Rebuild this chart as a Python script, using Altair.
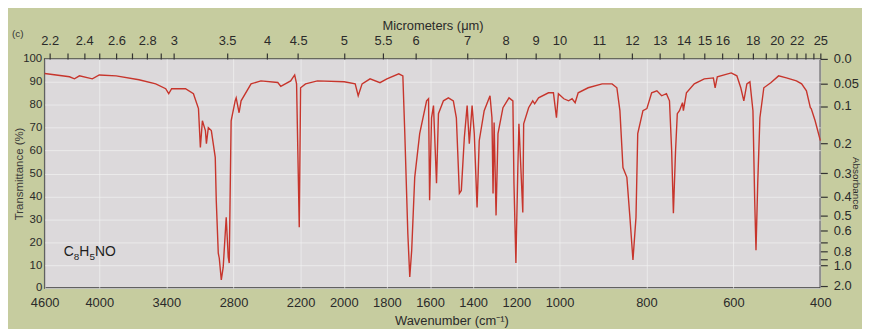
import json
import altair as alt
import pandas as pd

# ---- spectrum (wavenumber in cm-1, transmittance in %) ----
wavenumber = [
    4600, 4327, 4273, 4218, 4076, 4000, 3849, 3645, 3495, 3406, 3379, 3353, 3229, 3158,
    3113, 3096, 3078, 3051, 3042, 3025, 2998, 2963, 2954, 2936, 2927, 2909, 2892, 2865,
    2847, 2838, 2821, 2785, 2776, 2750, 2732, 2643, 2555, 2404, 2377, 2289, 2253, 2236,
    2212, 2200, 2177, 2122, 1998, 1947, 1933, 1915, 1878, 1832, 1800, 1745, 1726, 1717,
    1703, 1694, 1685, 1671, 1648, 1616, 1607, 1602, 1593, 1584, 1570, 1561, 1538, 1515,
    1492, 1478, 1464, 1455, 1441, 1428, 1418, 1405, 1395, 1382, 1372, 1349, 1322, 1313,
    1308, 1303, 1294, 1285, 1262, 1234, 1216, 1211, 1202, 1193, 1188, 1170, 1166, 1143,
    1124, 1115, 1097, 1051, 1028, 1014, 1005, 990, 979, 971, 964, 957, 934, 902,
    879, 868, 861, 854, 845, 838, 831, 824, 820, 808, 799, 788, 776, 765,
    754, 747, 742, 738, 733, 729, 724, 717, 715, 708, 690, 667, 646, 642,
    637, 605, 592, 583, 576, 569, 562, 555, 551, 548, 544, 539, 530, 514,
    496, 478, 455, 443, 432, 423, 421, 412, 400,
]
transmittance = [
    93.6, 92.2, 91.3, 92.6, 91.3, 93.0, 92.6, 90.9, 89.1, 87.0, 84.8, 87.0, 87.0, 84.8,
    78.3, 61.3, 73.0, 68.7, 63.0, 70.0, 68.7, 57.0, 38.3, 15.2, 13.0, 3.5, 9.1, 30.9,
    13.5, 10.9, 73.0, 81.7, 83.0, 76.5, 81.7, 89.1, 90.4, 89.7, 88.0, 90.4, 93.0, 89.1,
    26.5, 87.4, 89.1, 90.4, 90.0, 89.1, 83.9, 89.1, 91.3, 89.6, 91.3, 93.5, 92.6, 67.4,
    23.9, 4.8, 16.5, 48.3, 67.4, 81.7, 82.6, 38.3, 74.3, 79.6, 45.7, 76.1, 81.7, 83.0,
    81.7, 74.3, 41.3, 42.6, 65.7, 79.6, 63.0, 79.6, 67.4, 35.2, 64.3, 77.4, 83.9, 74.3,
    41.3, 72.2, 31.7, 67.4, 78.7, 83.0, 81.7, 45.7, 10.9, 52.6, 71.7, 33.0, 71.7, 78.7,
    81.7, 80.4, 83.0, 85.2, 85.2, 74.3, 84.8, 82.6, 81.7, 82.6, 80.9, 85.2, 87.4, 89.1,
    89.1, 87.4, 77.4, 52.6, 48.3, 30.9, 12.2, 30.9, 67.4, 77.4, 78.3, 85.2, 86.1, 83.9,
    84.8, 81.7, 60.0, 32.6, 60.0, 76.1, 77.4, 80.9, 77.4, 85.2, 89.1, 91.3, 91.7, 87.4,
    92.2, 93.9, 92.6, 87.4, 81.7, 89.1, 90.0, 77.4, 38.3, 16.5, 45.7, 74.3, 87.4, 89.6,
    92.6, 91.7, 90.4, 89.1, 86.1, 78.7, 78.3, 73.0, 64.3,
]

# ---- axis ticks / labels ----
wavenumber_ticks = [4600, 4000, 3400, 2800, 2200, 2000, 1800, 1600, 1400, 1200, 1000, 800, 600, 400]
transmittance_ticks = [0, 10, 20, 30, 40, 50, 60, 70, 80, 90, 100]
micrometer_ticks = [2.2, 2.3, 2.4, 2.5, 2.6, 2.7, 2.8, 2.9, 3.0, 3.5, 4.0, 4.5, 5.0, 5.5, 6.0,
                    7, 8, 9, 10, 11, 12, 13, 14, 15, 16, 17, 18, 19, 20, 21, 22, 23, 24, 25]
micrometer_labeled = [2.2, 2.4, 2.6, 2.8, 3, 3.5, 4, 4.5, 5, 5.5, 6, 7, 8, 9, 10, 11, 12, 13,
                      14, 15, 16, 18, 20, 22, 25]
absorbance_ticks = [0.0, 0.05, 0.1, 0.2, 0.3, 0.4, 0.5, 0.6, 0.7, 0.8, 0.9, 1.0, 2.0]
absorbance_labels = ["0.0", "0.05", "0.1", "0.2", "0.3", "0.4", "0.5", "0.6", "", "0.8", "", "1.0", "2.0"]
# molecular formula C8H5NO split into normal / subscript parts
formula_parts = ["C", "8", "H", "5", "NO"]
formula_is_sub = [False, True, False, True, False]

df = pd.DataFrame({"wn": wavenumber, "T": transmittance})

# piecewise wavenumber scale (chart compresses the high-wavenumber region)
W, H = 782, 231
x_scale = alt.Scale(domain=[4600, 4000, 2200, 1000, 400], range=[0, 55, 258, 519, 782],
                    nice=False, zero=False)
y_scale = alt.Scale(domain=[0, 100], nice=False, zero=False)

FONT = "Liberation Sans, Arial, sans-serif"
NARROW = "Liberation Sans Narrow, Liberation Sans, Arial, sans-serif"
TXT = "#2a2a2a"

um_codes = [round(u * 10) for u in micrometer_labeled]
top_expr = (f"indexof({um_codes}, round(100000/datum.value)) >= 0 ? "
            f"toString(round(100000/datum.value)/10) : ''")
abs_codes = [round(a * 100) for a in absorbance_ticks]
right_expr = (f"{json.dumps(absorbance_labels)}"
              f"[indexof({abs_codes}, round(-100*log(datum.value/100)/LN10))]")

bottom_axis = alt.Axis(orient="bottom", values=wavenumber_ticks, format="d", domain=False,
                       ticks=False, labelFlush=False, labelOverlap=False, labelPadding=9,
                       labelFontSize=13, labelFont=FONT, labelColor=TXT, grid=True,
                       gridColor="#f2f2f2", gridOpacity=0.7, gridWidth=1,
                       title="Wavenumber (cm⁻¹)", titleFont=FONT, titleFontSize=13,
                       titleFontWeight="normal", titleColor=TXT, titlePadding=5, titleX=410)
left_axis = alt.Axis(orient="left", values=transmittance_ticks, domain=False, ticks=False,
                     labelPadding=3, labelFontSize=11.5, labelFont=NARROW, labelColor=TXT,
                     grid=True, gridColor="#f2f2f2", gridOpacity=0.7, gridWidth=1,
                     title="Transmittance (%)", titleFont=FONT, titleFontSize=11.5,
                     titleFontWeight="normal", titleColor="#3a3a3a", titleAngle=-90,
                     titleX=-25, titleY=H / 2, titleBaseline="middle")
top_axis = alt.Axis(orient="top", values=[10000 / u for u in micrometer_ticks], domain=False,
                    ticks=True, tickSize=6, tickColor="#333333", tickWidth=1.2,
                    labelExpr=top_expr, labelFlush=False, labelOverlap=False, labelPadding=6,
                    labelFontSize=13, labelFont=FONT, labelColor=TXT, grid=False,
                    title="Micrometers (μm)", titleFont=FONT, titleFontSize=13,
                    titleFontWeight="normal", titleColor=TXT, titlePadding=2)
right_axis = alt.Axis(orient="right", values=[100 * 10 ** (-a) for a in absorbance_ticks],
                      domain=False, ticks=True, tickSize=7, tickColor="#333333", tickWidth=1.2,
                      labelExpr=right_expr, labelOverlap=False, labelFlush=False, labelPadding=6,
                      labelFontSize=13, labelFont=FONT, labelColor=TXT, grid=False,
                      title="Absorbance", titleFont=FONT, titleFontSize=10,
                      titleFontWeight="normal", titleColor=TXT, titleAngle=90,
                      titleX=35, titleY=125, titleBaseline="middle")

base = alt.Chart(df)
spectrum = base.mark_line(color="#c7352c", strokeWidth=1.4).encode(
    x=alt.X("wn:Q", scale=x_scale, axis=bottom_axis),
    y=alt.Y("T:Q", scale=y_scale, axis=left_axis),
)
twin = base.mark_line(opacity=0).encode(
    x=alt.X("wn:Q", scale=x_scale, axis=top_axis),
    y=alt.Y("T:Q", scale=y_scale, axis=right_axis),
)

# formula label: each part as its own text mark, offset horizontally
formula_layers = []
offset = 0.0
for part, is_sub in zip(formula_parts, formula_is_sub):
    size = 10 if is_sub else 14
    formula_layers.append(
        alt.Chart(pd.DataFrame({"t": [part], "wn": [4390], "T": [15.8]})).mark_text(
            align="left", baseline="middle", fontSize=size, font=FONT, color="#1e1e1e",
            dx=offset, dy=5 if is_sub else 0,
        ).encode(
            x=alt.X("wn:Q", scale=x_scale, axis=None),
            y=alt.Y("T:Q", scale=y_scale, axis=None),
            text="t:N",
        )
    )
    offset += (5.6 if is_sub else 10.1 * len(part) + (0.8 if part == "NO" else 0))

corner = alt.Chart(pd.DataFrame({"t": ["(c)"]})).mark_text(
    align="left", baseline="middle", fontSize=10, font=FONT, color="#333333"
).encode(x=alt.value(-33), y=alt.value(-25), text="t:N")

chart = (
    alt.layer(spectrum, twin, *formula_layers, corner)
    .resolve_axis(x="independent", y="independent")
    .properties(
        width=W, height=H,
        autosize=alt.AutoSizeParams(type="none"),
        padding={"left": 37, "top": 50, "right": 42, "bottom": 40},
        background="#c6cc9f",
    )
    .configure_view(fill="#dcd9db", stroke="#3a3a3a", strokeWidth=1.5)
)

chart.save("out.html", embed_options={"renderer": "svg", "actions": False})
